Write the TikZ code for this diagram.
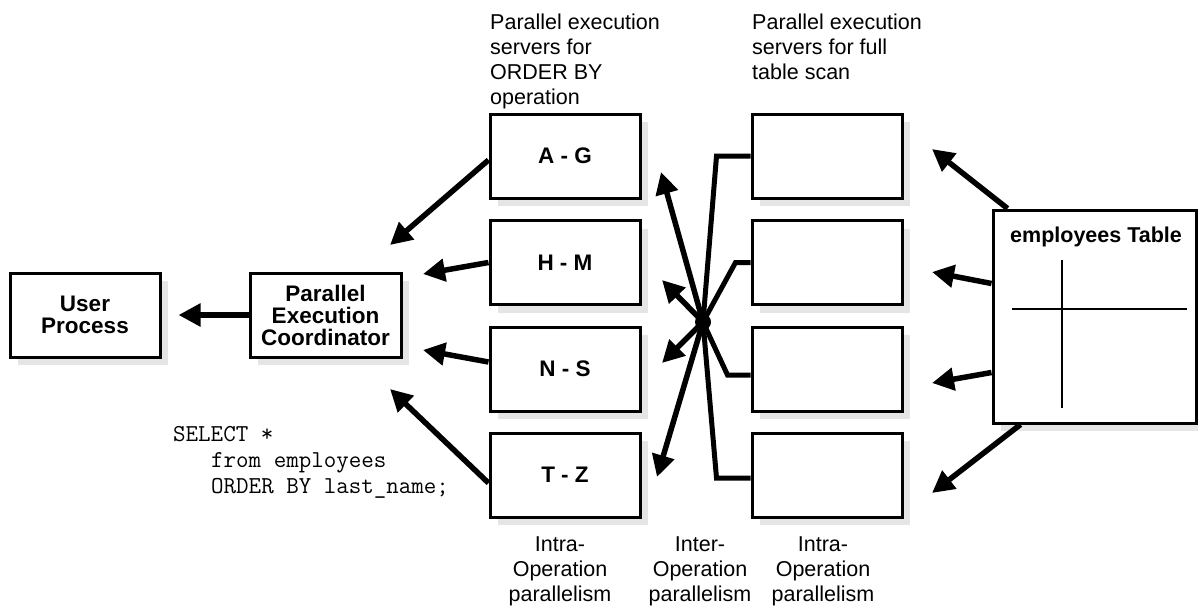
\documentclass[tikz,border=0pt]{standalone}
\usepackage{fontspec}
\setmainfont{Liberation Sans}
\usetikzlibrary{arrows.meta,shadows}

\begin{document}
\begin{tikzpicture}[x=1pt,y=-1pt,
  box/.style={draw,line width=3pt,fill=white,minimum width=150pt,minimum height=84pt,
    inner sep=0pt,align=center,font=\fontsize{22.5}{22}\selectfont\bfseries,
    drop shadow={shadow xshift=8pt,shadow yshift=-8pt,fill=black!10,opacity=1}},
  arr/.style={line width=5.5pt,-{Triangle[length=22pt,width=22pt]}},
  link/.style={line width=5pt},
  lbl/.style={inner sep=0pt,font=\fontsize{21.5}{25}\selectfont}]
\useasboundingbox (0,0) rectangle (1198,605);

\node[box] (U)  at (85,315)    {User\\Process};
\node[box,minimum width=151pt] (C)  at (325.5,315) {Parallel\\Execution\\Coordinator};

\node[box] (AG) at (565,156)   {A - G};
\node[box] (HM) at (565,262.5) {H - M};
\node[box] (NS) at (565,369)   {N - S};
\node[box] (TZ) at (565,475)   {T - Z};

\node[box] (F1) at (827,156)   {};
\node[box] (F2) at (827,262.5) {};
\node[box] (F3) at (827,369)   {};
\node[box] (F4) at (827,475)   {};

\node[box,minimum width=203pt,minimum height=213pt] (E) at (1094.5,316.5) {};
\node[inner sep=0pt,anchor=base west,font=\fontsize{21.5}{22}\selectfont\bfseries] (Et) at (1010,242) {employees Table};
\draw[line width=2pt] (1062,260) -- (1062,408);
\draw[line width=2pt] (1012,309) -- (1187,309);

\node[circle,fill,inner sep=0pt,minimum size=16pt] (H) at (703,322) {};

\node[lbl,anchor=north west,align=left] (L1) at (490,14) {Parallel execution\\servers for\\ORDER BY\\operation};
\node[lbl,anchor=north west,align=left] (L2) at (752,14) {Parallel execution\\servers for full\\table scan};

\node[lbl,anchor=north,align=center] (B1) at (560,536) {Intra-\\Operation\\parallelism};
\node[lbl,anchor=north,align=center] (B2) at (700,536) {Inter-\\Operation\\parallelism};
\node[lbl,anchor=north,align=center] (B3) at (823,536) {Intra-\\Operation\\parallelism};

\node[inner sep=0pt,anchor=north west,align=left,font=\fontsize{24.3}{26}\selectfont\ttfamily] (Q) at (173,426)
  {SELECT *\\\hspace*{38pt}from employees\\\hspace*{38pt}ORDER BY last\_name;};

\coordinate (tAG) at (661,172);
\coordinate (tHM) at (662,280);
\coordinate (tNS) at (662,363);
\coordinate (tTZ) at (657,477);
\coordinate (cAG) at (390,245);
\coordinate (cHM) at (423,274);
\coordinate (cNS) at (423,350);
\coordinate (cTZ) at (390,389);
\coordinate (sF1) at (932,149);
\coordinate (sF2) at (932,272);
\coordinate (sF3) at (932,383);
\coordinate (sF4) at (932,493);

\draw[arr,shorten >=17pt] (C.west) -- (U.east);
\draw[arr] ([yshift=-4pt]AG.west) -- (cAG);
\draw[arr] (HM.west) -- (cHM);
\draw[arr] ([yshift=7pt]NS.west) -- (cNS);
\draw[arr] ([yshift=-8pt]TZ.west) -- (cTZ);

\draw[arr] (H.center) -- (tAG);
\draw[arr] (H.center) -- (tHM);
\draw[arr] (H.center) -- (tNS);
\draw[arr] (H.center) -- (tTZ);

\draw[link] (H.center) -- ([xshift=-34pt]F1.west) -- (F1.west);
\draw[link] (H.center) -- ([xshift=-15pt]F2.west) -- (F2.west);
\draw[link] (H.center) -- ([xshift=-23pt,yshift=-6pt]F3.west) -- ([yshift=-6pt]F3.west);
\draw[link] (H.center) -- ([xshift=-34pt,yshift=-3pt]F4.west) -- ([yshift=-3pt]F4.west);

\draw[arr] ([xshift=-87pt]E.north) -- (sF1);
\draw[arr] ([yshift=33pt]E.west) -- (sF2);
\draw[arr] ([yshift=-56pt]E.west) -- (sF3);
\draw[arr] ([xshift=-74pt]E.south) -- (sF4);
\end{tikzpicture}
\end{document}
